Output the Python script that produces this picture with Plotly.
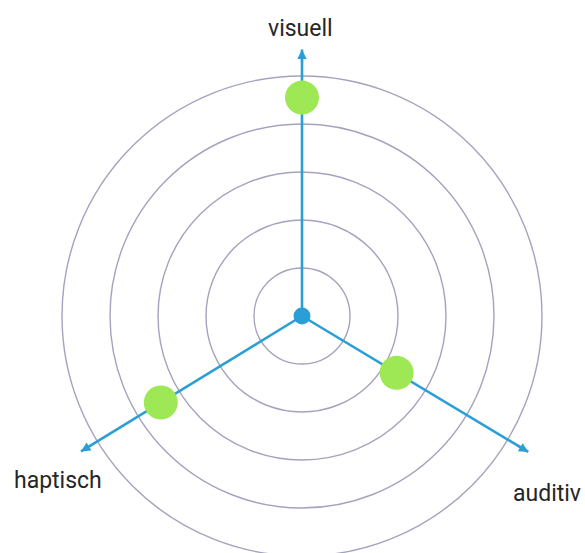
import numpy as np
import plotly.graph_objects as go

# data
categories = ["visuell", "auditiv", "haptisch"]
values = [4.55, 2.3, 3.45]
rings = [1, 2, 3, 4, 5]

# layout constants
angles_deg = [90, -31, 211.5]
axis_len = [5.55, 5.5, 5.4]
label_pos = [(-0.04, 6.0), (5.1, -3.69), (-5.08, -3.42)]
UNIT = 48.0
W, H = 585, 553
CX, CY = 302, 316

AXIS_COLOR = "#2a9fd6"
RING_COLOR = "#a3a3bf"
POINT_COLOR = "#9ee856"

fig = go.Figure()

shapes = []
for r in rings:
    shapes.append(dict(type="circle", xref="x", yref="y", x0=-r, x1=r, y0=-r, y1=r,
                       line=dict(color=RING_COLOR, width=1.4), layer="below"))

annotations = []
for ang, L in zip(angles_deg, axis_len):
    a = np.deg2rad(ang)
    ux, uy = np.cos(a), np.sin(a)
    fig.add_trace(go.Scatter(x=[0, L * ux], y=[0, L * uy], mode="lines",
                             line=dict(color=AXIS_COLOR, width=2.6),
                             hoverinfo="skip", showlegend=False))
    annotations.append(dict(x=L * ux, y=L * uy, ax=(L - 0.3) * ux, ay=(L - 0.3) * uy,
                            xref="x", yref="y", axref="x", ayref="y", text="",
                            showarrow=True, arrowhead=2, arrowsize=0.85, arrowwidth=2.2,
                            arrowcolor=AXIS_COLOR, standoff=0, startstandoff=0))

for cat, (lx, ly) in zip(categories, label_pos):
    annotations.append(dict(x=lx, y=ly, xref="x", yref="y", text=cat, showarrow=False,
                            font=dict(family="Roboto", size=23, color="#262626"),
                            xanchor="center", yanchor="middle"))

# center dot
fig.add_trace(go.Scatter(x=[0], y=[0], mode="markers",
                         marker=dict(color=AXIS_COLOR, size=17, line=dict(width=0)),
                         hoverinfo="skip", showlegend=False))

# points
rad = np.deg2rad(angles_deg)
px = [v * np.cos(a) for v, a in zip(values, rad)]
py = [v * np.sin(a) for v, a in zip(values, rad)]
fig.add_trace(go.Scatter(x=px, y=py, mode="markers", text=categories,
                         marker=dict(color=POINT_COLOR, size=34, line=dict(width=0)),
                         showlegend=False))

fig.update_layout(
    width=W, height=H,
    margin=dict(l=0, r=0, t=0, b=0),
    paper_bgcolor="white", plot_bgcolor="white",
    shapes=shapes, annotations=annotations,
    xaxis=dict(range=[-CX / UNIT, (W - CX) / UNIT], visible=False, fixedrange=True),
    yaxis=dict(range=[-(H - CY) / UNIT, CY / UNIT], visible=False, fixedrange=True),
)

fig.write_html("out.html", config={"displayModeBar": False},
               post_script="document.body.style.margin='0';document.body.style.overflow='hidden';")
